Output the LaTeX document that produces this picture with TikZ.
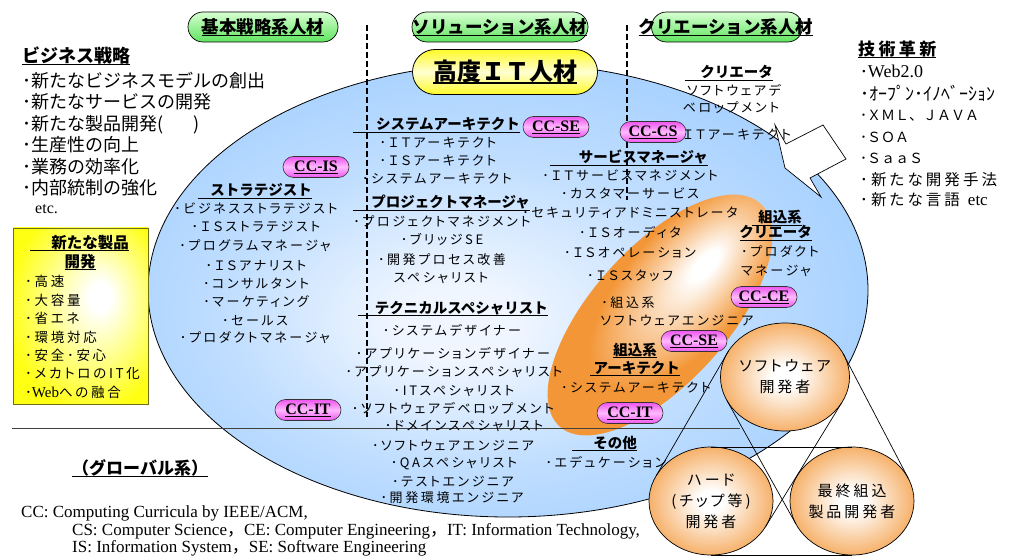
\documentclass[tikz,border=0pt]{standalone}
\usepackage{fontspec}
\setmainfont{Liberation Serif}
\newfontfamily\jp{Noto Sans CJK JP}
\newfontfamily\jpsp[RawFeature=+palt,LetterSpace=20]{Noto Sans CJK JP}
\usetikzlibrary{shapes.geometric,shapes.misc}
\definecolor{skyb}{RGB}{150,200,255}
\definecolor{skym}{RGB}{192,222,255}
\definecolor{skyw}{RGB}{240,246,255}
\definecolor{orng}{RGB}{243,150,55}
\definecolor{grnA}{RGB}{215,255,210}
\definecolor{grnB}{RGB}{95,228,95}
\definecolor{yelA}{RGB}{255,255,210}
\definecolor{yelB}{RGB}{255,250,40}
\definecolor{pnkA}{RGB}{255,185,255}
\definecolor{pnkB}{RGB}{238,85,238}
\definecolor{boxY}{RGB}{255,255,20}
\definecolor{olive}{RGB}{110,110,20}
\pgfdeclareradialshading{blueball}{\pgfpoint{-4bp}{-4bp}}{color(0bp)=(skyw); color(4bp)=(skyw); color(17bp)=(skym); color(36bp)=(skyb); color(50bp)=(skyb)}
\pgfdeclareradialshading{orangeball}{\pgfpoint{0bp}{0bp}}{color(0bp)=(white); color(5bp)=(white); color(32bp)=(orng); color(50bp)=(orng)}
\pgfdeclareradialshading{orangeemb}{\pgfpoint{12bp}{0bp}}{color(0bp)=(white); color(3bp)=(white); color(22bp)=(orng); color(50bp)=(orng)}
\pgfdeclareradialshading{yellowbox}{\pgfpoint{8bp}{6bp}}{color(0bp)=(white); color(4bp)=(white); color(30bp)=(boxY); color(50bp)=(boxY)}
\newcommand{\fs}[1]{\fontsize{#1}{#1}\selectfont}
\newcommand{\ulr}[2]{\makebox[#1][r]{#2}\llap{\rule[-3pt]{#1}{1.1pt}}}
\newcommand{\ulc}[1]{\setbox0\hbox{#1}\rlap{\rule[-2.5pt]{\wd0}{1pt}}\box0}
\newcommand{\ulx}[3]{\setbox0\hbox{#3}\rlap{\rule[-#1]{\wd0}{#2}}\box0}
\tikzset{
 body/.style={font=\jpsp\fs{13}, inner sep=0pt, anchor=base},
 hd/.style={font=\jp\bfseries\fs{14.5}, inner sep=0pt, anchor=base east},
 bigt/.style={font=\jp\fs{18}, inner sep=0pt, anchor=base west},
 rt/.style={font=\jpsp\fs{15.5}, inner sep=0pt, anchor=base west},
 ybt/.style={font=\jpsp\fs{13.5}, inner sep=0pt, anchor=base west},
 fnt/.style={font=\fs{17}, inner sep=0pt, anchor=base west},
 ccpill/.style={rounded rectangle, draw=black!80, line width=0.6pt, top color=pnkB, bottom color=pnkB, middle color=pnkA, minimum width=66pt, minimum height=21pt, inner sep=0pt, font=\bfseries\fs{16}},
 grpill/.style={rounded rectangle, draw=black, line width=0.7pt, top color=grnA, bottom color=grnB, minimum width=150pt, minimum height=30pt, inner sep=0pt},
 grlabel/.style={font=\jp\bfseries\fs{17.5}, inner sep=0pt},
 ball/.style={ellipse, draw=black, line width=0.7pt, shading=orangeball, minimum width=124pt, minimum height=108pt, inner sep=0pt, outer sep=0pt, font=\jpsp\fontsize{15}{21}\selectfont, align=center},
 tline/.style={line width=0.7pt},
 dline/.style={line width=1.3pt, dash pattern=on 6pt off 3pt},
}
\begin{document}
\begin{tikzpicture}[x=1pt,y=-1pt]
\useasboundingbox (0,0) rectangle (1012,556);
\fill[white] (0,0) rectangle (1012,556);
% main ellipse
\node[ellipse, draw=black, line width=0.8pt, shading=blueball, minimum width=720pt, minimum height=454pt, inner sep=0pt] (big) at (508,290) {};
% embedded (orange) region, drawn as a rotated shaded ellipse
\begin{scope}[transform canvas={shift={(660,315)}, rotate=48}]
\shade[shading=orangeemb] (0,0) ellipse [x radius=150pt, y radius=68pt];
\end{scope}
% horizontal rule
\coordinate (hl1) at (12,428); \coordinate (hl2) at (740,428);
\draw[line width=0.7pt, black!75] (hl1) -- (hl2);
% dashed separators
\coordinate (d1a) at (367,25); \coordinate (d1b) at (367,417);
\coordinate (d2a) at (627,25); \coordinate (d2b) at (627,200);
\draw[dline] (d1a) -- (d1b);
\draw[dline] (d2a) -- (d2b);
% three balls
\node[ball] (sw) at (785,377) {ソフトウェア\\開発者};
\node[ball] (hw) at (711,501) {ハード\\(チップ等)\\開発者};
\node[ball] (fin) at (852,501) {最終組込\\製品開発者};
\draw[tline] (sw.155.6) -- (hw.155.6);
\draw[tline] (sw.335.6) -- (hw.335.6);
\draw[tline] (sw.22.3) -- (fin.22.3);
\draw[tline] (sw.202.3) -- (fin.202.3);
\draw[tline] (hw.north) -- (fin.north);
\draw[tline] (hw.south) -- (fin.south);
% left text
\node[bigt, font=\jp\bfseries\fs{18}] (bs) at (22,63) {\ulc{ビジネス戦略}};
\node[bigt] (bs1) at (22,87.5) {･新たなビジネスモデルの創出};
\node[bigt] (bs2) at (22,108.5) {･新たなサービスの開発};
\node[bigt] (bs3) at (22,130.5) {･新たな製品開発(\hspace{1.7em})};
\node[bigt] (bs4) at (22,151.5) {･生産性の向上};
\node[bigt] (bs5) at (22,173.5) {･業務の効率化};
\node[bigt] (bs6) at (22,194.5) {･内部統制の強化};
\node[fnt, font=\fs{16}] (bs7) at (35,214) {etc.};
% yellow box
\node[rectangle, draw=olive, line width=0.8pt, shading=yellowbox, minimum width=135pt, minimum height=176pt, inner sep=0pt] (ybox) at (80.5,316) {};
\node[hd, font=\jp\bfseries\fs{15.5}] (yb1) at (129,248) {\ulr{99pt}{新たな製品}};
\node[hd, anchor=base, font=\jp\bfseries\fs{15.5}] (yb2) at (80,267) {\ulc{開発}};
\node[ybt] (yi1) at (25,286) {･高速};
\node[ybt] (yi2) at (25,305) {･大容量};
\node[ybt] (yi3) at (25,323) {･省エネ};
\node[ybt] (yi4) at (25,342) {･環境対応};
\node[ybt] (yi5) at (25,360) {･安全･安心};
\node[ybt] (yi6) at (25,378) {･メカトロのIT化};
\node[ybt] (yi7) at (25,397) {･{\rmfamily\fs{15}Web}への融合};
% global
\node[bigt, font=\jp\bfseries\fs{17}] (gl) at (72,474) {\ulc{（グローバル系）}};
% footnote
\node[fnt] (fn1) at (21,517) {CC: Computing Curricula by IEEE/ACM,};
\node[fnt] (fn2) at (72,535) {CS: Computer Science{\jp ，}CE: Computer Engineering{\jp ，}IT: Information Technology,};
\node[fnt] (fn3) at (72,552) {IS: Information System{\jp ，}SE: Software Engineering};
% right text
\node[rt, font=\jpsp\bfseries\fs{17}] (tk) at (858,56) {\ulc{技術革新}};
\node[rt] (tk1) at (860,77.5) {･{\rmfamily\fs{18}Web2.0}};
\node[rt, font=\jp\fs{18}] (tk2) at (860,100.5) {･ｵｰﾌﾟﾝ･ｲﾉﾍﾞｰｼｮﾝ};
\node[rt, font=\jp\fs{14}] (tk3) at (860,120.5) {･ＸＭＬ、ＪＡＶＡ};
\node[rt, font=\jp\fs{14}] (tk4) at (860,142.5) {･ＳＯＡ};
\node[rt, font=\jp\fs{14}] (tk5) at (860,163.5) {･ＳａａＳ};
\node[rt] (tk6) at (860,185.5) {･新たな開発手法};
\node[rt] (tk7) at (860,205.5) {･新たな言語\hspace{8pt}{\rmfamily\fs{17}etc}};
% column 1
\node[hd] (h1) at (312,196) {\ulr{114pt}{ストラテジスト}};
\node[body] (c1a) at (256,214) {･ビジネスストラテジスト};
\node[body] (c1b) at (256,232) {･ＩＳストラテジスト};
\node[body] (c1c) at (255,251) {･プログラムマネージャ};
\node[body] (c1d) at (256,270) {･ＩＳアナリスト};
\node[body] (c1e) at (256,288) {･コンサルタント};
\node[body] (c1f) at (256,306) {･マーケティング};
\node[body] (c1g) at (255,325) {･セールス};
\node[body] (c1h) at (255,342) {･プロダクトマネージャ};
% column 2
\node[hd] (h2) at (520,130) {\ulr{167pt}{システムアーキテクト}};
\node[body] (c2a) at (438,148) {･ＩＴアーキテクト};
\node[body] (c2b) at (438,166) {･ＩＳアーキテクト};
\node[body] (c2c) at (437,184) {･システムアーキテクト};
\node[hd] (h3) at (530,208) {\ulr{177pt}{プロジェクトマネージャ}};
\node[body] (c2d) at (442,227) {･プロジェクトマネジメント};
\node[body] (c2e) at (442,244) {･ブリッジSE};
\node[body] (c2f) at (442,265) {･開発プロセス改善};
\node[body] (c2g) at (441,282) {スペシャリスト};
\node[hd] (h4) at (548,313) {\ulr{190pt}{テクニカルスペシャリスト}};
\node[body] (c2h) at (452,335) {･システムデザイナー};
\node[body] (c2i) at (453,358) {･アプリケーションデザイナー};
\node[body] (c2j) at (454,376) {･アプリケーションスペシャリスト};
\node[body] (c2k) at (454,395) {･ITスペシャリスト};
\node[body] (c2l) at (453,413) {･ソフトウェアデベロップメント};
\node[body] (c2m) at (464,430) {･ドメインスペシャリスト};
\node[body] (c2n) at (453,450) {･ソフトウェアエンジニア};
\node[body] (c2o) at (454,467) {･QAスペシャリスト};
\node[body] (c2p) at (453,486) {･テストエンジニア};
\node[body] (c2q) at (452,502) {･開発環境エンジニア};
% column 3
\node[hd] (h5) at (708,163) {\ulr{158pt}{サービスマネージャ}};
\node[body] (c3a) at (630,181) {･ＩＴサービスマネジメント};
\node[body] (c3b) at (630,199) {･カスタマーサービス};
\node[body] (c3c) at (630,218) {･セキュリティアドミニストレータ};
\node[body] (c3d) at (630,237) {･ＩＳオーディタ};
\node[body] (c3e) at (630,258) {･ＩＳオペレーション};
\node[body] (c3f) at (630,280) {･ＩＳスタッフ};
\node[body] (c3g) at (628,307) {･組込系};
\node[body] (c3h) at (677,325) {ソフトウェアエンジニア};
% creator
\node[hd] (h6) at (773,78) {\ulr{88pt}{クリエータ}};
\node[body] (cr1) at (734,96) {ソフトウェアデ};
\node[body] (cr2) at (731,113) {ベロップメント};
\node[body, anchor=base west] (cr3) at (683,140) {ＩＴアーキテクト};
% embedded creator
\node[hd] (h7) at (802,223) {\ulr{50pt}{組込系}};
\node[hd] (h8) at (812,238) {\ulr{72pt}{クリエータ}};
\node[body, anchor=base west] (ec1) at (741,257) {･プロダクト};
\node[body, anchor=base west] (ec2) at (741,276) {マネージャ};
% embedded architect
\node[hd, anchor=base] (h9) at (635,355) {\ulc{組込系}};
\node[hd] (h10) at (680,373) {\ulr{90pt}{アーキテクト}};
\node[body] (ea1) at (636,392) {･システムアーキテクト};
% other
\node[hd] (h11) at (637,448) {\ulr{65pt}{その他}};
\node[body] (ot1) at (606,467) {･エデュケーション};
% green pills
\node[grpill] (g1) at (263,27) {};
\node[grlabel] (g1t) at (g1.center) {\ulc{基本戦略系人材}};
\node[grpill, minimum width=176pt] (g2) at (500,27) {};
\node[grlabel] (g2t) at (g2.center) {\ulc{ソリューション系人材}};
\node[grpill, minimum width=151pt] (g3) at (727,27) {};
\node[grlabel] (g3t) at (726,27) {\ulc{クリエーション系人材}};
% yellow pill
\node[rounded rectangle, draw=black, line width=0.8pt, top color=yelB, bottom color=yelB, middle color=yelA, minimum width=185pt, minimum height=45pt, inner sep=0pt, font=\jp\bfseries\fs{24}] (hi) at (505,72) {\ulx{3.5pt}{1.6pt}{高度ＩＴ人材}};
% CC pills
\node[ccpill] (ccis) at (316,167) {\ulc{CC-IS}};
\node[ccpill] (ccse1) at (556,127) {\ulc{CC-SE}};
\node[ccpill] (cccs) at (653,132) {\ulc{CC-CS}};
\node[ccpill] (ccce) at (764,297) {\ulc{CC-CE}};
\node[ccpill] (ccse2) at (694,341) {\ulc{CC-SE}};
\node[ccpill] (ccit1) at (630,413) {\ulc{CC-IT}};
\node[ccpill] (ccit2) at (308,410) {\ulc{CC-IT}};
% callout
\draw[fill=white, line width=0.7pt, line join=miter] (775,125) -- (786,144) -- (823,125) -- (846,159) -- (810,178) -- (821,197) -- (785,168) -- cycle;
\end{tikzpicture}
\end{document}
